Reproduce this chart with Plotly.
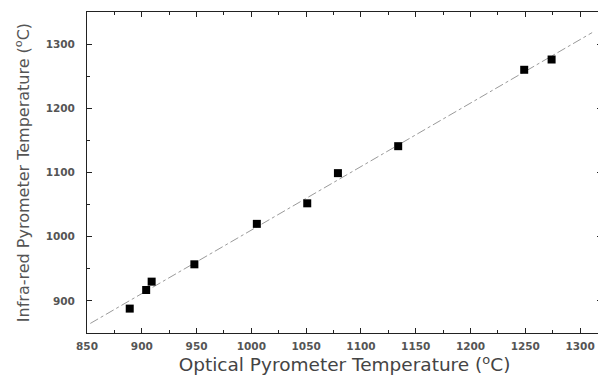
import numpy as np
import plotly.graph_objects as go

optical_temp = [889, 904, 909, 948, 1005, 1051, 1079, 1134, 1249, 1274]
infrared_temp = [888, 917, 930, 957, 1020, 1052, 1099, 1141, 1260, 1276]
x_ticks = [850, 900, 950, 1000, 1050, 1100, 1150, 1200, 1250, 1300]
y_ticks = [900, 1000, 1100, 1200, 1300]
fit_x_range = [853, 1311]

slope, intercept = np.polyfit(optical_temp, infrared_temp, 1)
fit_x = np.array(fit_x_range, dtype=float)
fit_y = slope * fit_x + intercept

fig = go.Figure()
fig.add_trace(go.Scatter(
    x=fit_x, y=fit_y, mode="lines",
    line=dict(color="#9a9a9a", width=1, dash="dashdot"),
    showlegend=False, hoverinfo="skip"))
fig.add_trace(go.Scatter(
    x=optical_temp, y=infrared_temp, mode="markers",
    marker=dict(symbol="square", size=8, color="black"),
    showlegend=False))

axis_common = dict(
    showgrid=False, zeroline=False, showline=True, linecolor="#222", linewidth=1,
    mirror="ticks", ticks="inside", ticklen=5, tickcolor="#222", tickwidth=1,
    automargin=False,
    tickfont=dict(family="DejaVu Sans, sans-serif", size=10.5, color="#555", weight="bold"),
)

# page body has an 8px default margin, so the figure is sized to fit the window
fig.update_layout(
    width=598, height=372,
    margin=dict(l=79, r=4, t=4, b=47),
    paper_bgcolor="white", plot_bgcolor="white",
    xaxis=dict(range=[850, 1320], tickvals=x_ticks, ticklabelstandoff=3,
               minor=dict(dtick=25, ticks="inside", ticklen=3, tickcolor="#222"),
               title=dict(text="Optical Pyrometer Temperature (<sup>o</sup>C)",
                          font=dict(family="DejaVu Sans, sans-serif", size=18.5, color="#444"),
                          standoff=0),
               **axis_common),
    yaxis=dict(range=[850, 1350], tickvals=y_ticks, ticklabelstandoff=9,
               minor=dict(dtick=50, ticks="inside", ticklen=3, tickcolor="#222"),
               title=dict(text="Infra-red Pyrometer Temperature (<sup>o</sup>C)",
                          font=dict(family="DejaVu Sans, sans-serif", size=16, color="#555"),
                          standoff=12),
               **axis_common),
)

fig.write_html("out.html")
